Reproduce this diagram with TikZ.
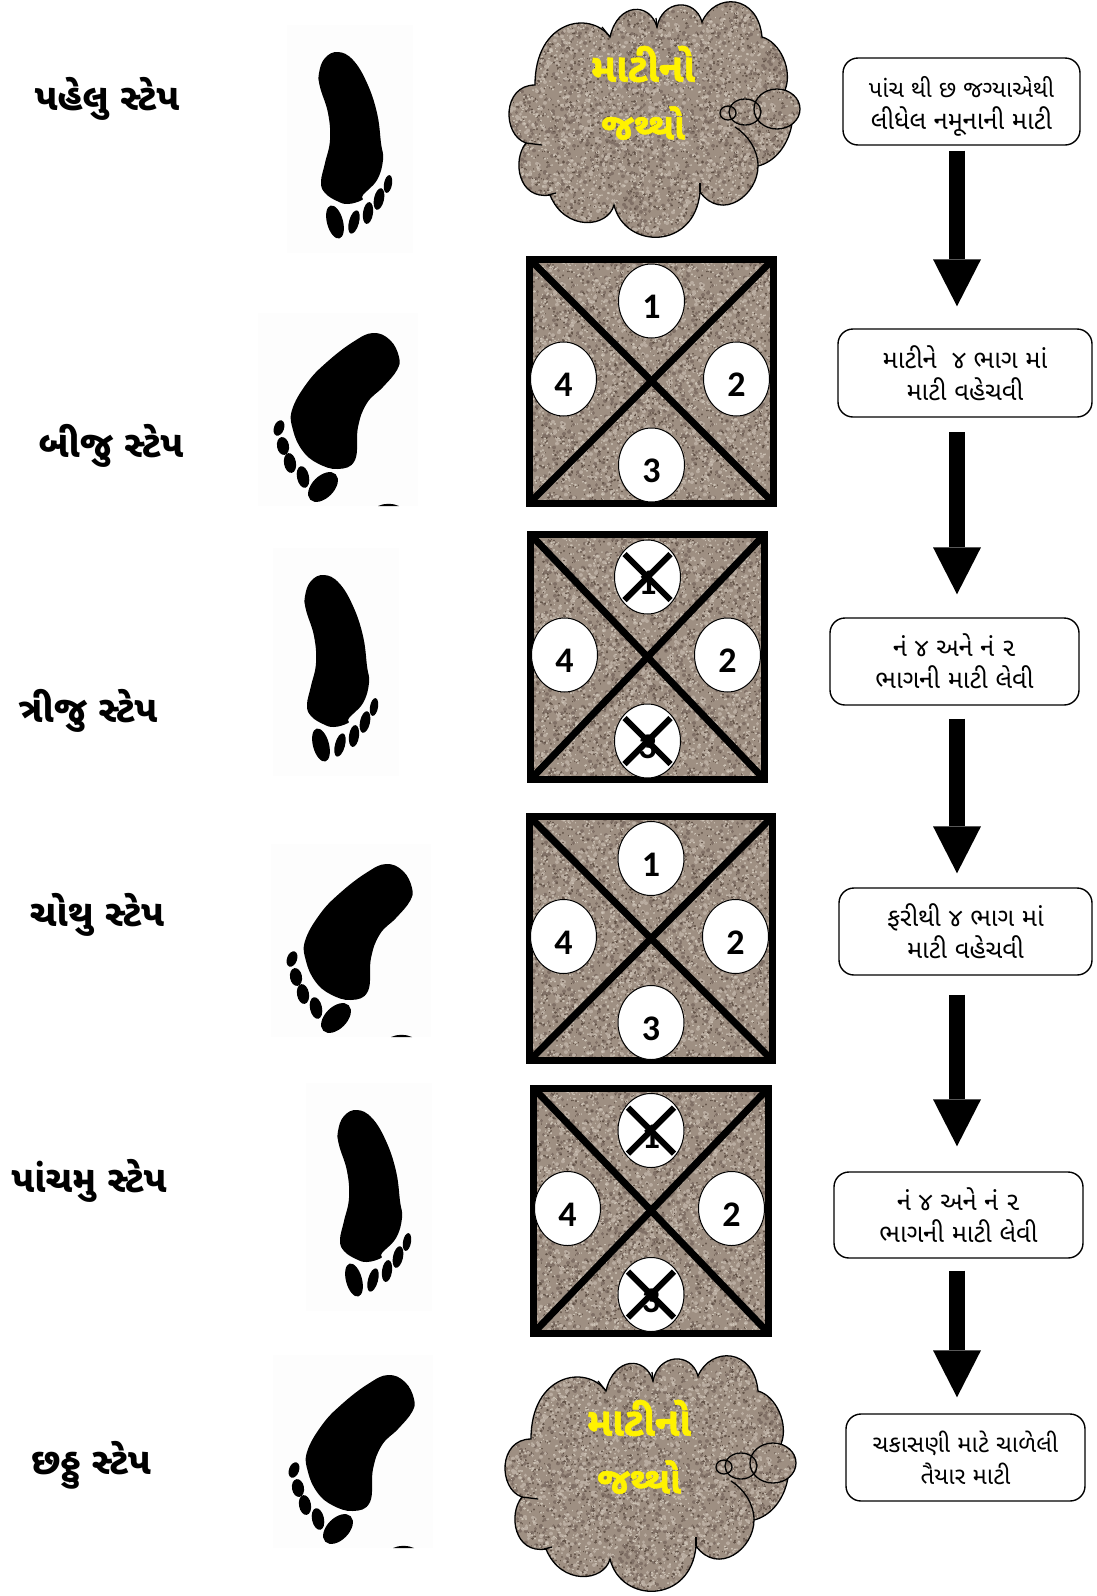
\documentclass[tikz,border=0pt]{standalone}
\usepackage{fontspec}
\usepackage{xcolor}
\usetikzlibrary{shapes.geometric,arrows.meta}
\setmainfont{Carlito}
\newfontfamily\gujfont[Script=Gujarati]{Noto Sans Gujarati UI}
\newfontfamily\gujheavy[Script=Gujarati,FakeBold=1.5]{Noto Sans Gujarati UI Bold}
\definecolor{footback}{RGB}{253,253,253}
\pgfmathsetseed{417}
\newcommand\soilink{q 0.1 0 0 0.1 0 0 cm 0.62 0.56 0.51 rg 0 0 1405 1405 re f 1 J }
\newcommand\addgrains[3]{
  \xdef\soilink{\soilink #2 RG #3 w }
  \foreach \g in {1,...,#1}{
    \pgfmathrandominteger\gx{0}{1400}
    \pgfmathrandominteger\gy{0}{1400}
    \xdef\soilink{\soilink \gx\space\gy\space m \gx\space\the\numexpr\gy+1\relax\space l }
  }
  \xdef\soilink{\soilink S }
}
\addgrains{350}{0.50 0.44 0.40}{36}
\addgrains{350}{0.73 0.68 0.63}{36}
\addgrains{300}{0.38 0.32 0.28}{14}
\addgrains{200}{0.38 0.32 0.28}{22}
\addgrains{300}{0.80 0.76 0.71}{14}
\addgrains{250}{0.80 0.76 0.71}{22}
\xdef\soilink{\soilink Q}
\newsavebox\soiltile
\makeatletter
\sbox\soiltile{\begin{pgfpicture}
  \pgfpathrectangle{\pgfpointorigin}{\pgfqpoint{140pt}{140pt}}
  \pgfusepath{use as bounding box}
  \pgfsys@invoke{\soilink}
\end{pgfpicture}}
\makeatother
\newcommand\soiltiles[4]{
  \foreach \col in {1,...,#3}{
    \foreach \row in {1,...,#4}{
      \pgfmathsetmacro\tilex{#1+(\col-1)*139}
      \pgfmathsetmacro\tiley{#2+(\row-1)*139}
      \pgftext[at={\pgfpointxy{\tilex}{\tiley}},left,top]{\usebox\soiltile}
    }
  }
}
\newcommand\cloudoutline{(610,37) .. controls (618,2) and (650,2) .. (657,27)
  .. controls (662,0) and (695,-3) .. (702,22) .. controls (715,-8) and (758,-6) .. (762,37)
  .. controls (780,42) and (793,70) .. (785,90) .. controls (802,110) and (790,158) .. (758,166)
  .. controls (758,195) and (722,222) .. (700,192) .. controls (695,250) and (625,250) .. (614,205)
  .. controls (608,228) and (565,232) .. (550,195) .. controls (518,200) and (512,160) .. (526,143)
  .. controls (502,135) and (502,85) .. (535,85) .. controls (535,20) and (590,10) .. (610,37) -- cycle}
\tikzset{
  steplabel/.style={font=\gujfont\bfseries\fontsize{37}{42}\selectfont},
  stepbox/.style={draw,line width=1.4pt,rounded corners=15pt,align=center,inner sep=0pt,
    font=\gujfont\fontsize{25.5}{32}\selectfont},
  cloudtext/.style={text=yellow,font=\gujheavy\fontsize{37}{42}\selectfont},
  holeoval/.style={ellipse,draw,fill=white,line width=1pt,inner sep=0pt,minimum width=66pt,
    minimum height=74pt,text height=35pt,text depth=0pt,font=\bfseries\fontsize{36}{40}\selectfont},
  blockarrow/.style={line width=16pt,-{Triangle[width=48pt,length=47pt,line width=0pt]}},
  crossmark/.style={line width=6pt},
  cloudline/.style={line width=1.3pt},
  straightfoot/.pic={
    \fill[footback] (287,25) rectangle (413,253);
    \fill plot[smooth cycle,tension=0.7] coordinates {(338,52) (353,60) (367,83) (377,113) (381,143)
      (383,160) (377,180) (363,195) (362,200) (348,204) (337,201) (325,193) (321,182) (325,163)
      (330,140) (328,113) (320,87) (319,73) (325,58)};
    \foreach \tx/\ty/\ta/\tb/\tr in {335/222/8/17/15,354/222/5/12/-15,368/213/5/11/-8,379/199/5/11/-12,388/184/4/9/-10}
      \fill[rotate around={\tr:(\tx,\ty)}] (\tx,\ty) ellipse ({\ta} and {\tb});
  },
  slantfoot/.pic={
    \fill[footback] (258,313) rectangle (418,506);
    \fill plot[smooth cycle,tension=0.7] coordinates {(373,333) (390,340) (399,357) (397,370) (383,387)
      (367,403) (358,427) (355,460) (338,469) (317,463) (302,450) (293,430) (292,410) (307,383)
      (327,362) (353,342)};
    \foreach \tx/\ty/\ta/\tb/\tr in {279/428/5/8/-20,283/446/6/9/10,290/463/6/10/10,303/477/6/11/12,323/487/18/11/45}
      \fill[rotate around={\tr:(\tx,\ty)}] (\tx,\ty) ellipse ({\ta} and {\tb});
    \fill (378,506) .. controls (385,503) and (392,503) .. (399,506) -- cycle;
  },
  soilcloud/.pic={
    \begin{scope}
      \clip \cloudoutline;
      \soiltiles{505}{0}{3}{2}
    \end{scope}
    \draw[cloudline] \cloudoutline;
    \draw[cloudline] (735,127) .. controls (748,135) and (758,150) .. (758,166);
    \draw[cloudline] (700,192) -- (700,183);
    \draw[cloudline] (548,195) -- (556,193);
    \draw[cloudline] (526,143) -- (542,145);
    \draw[cloudline] (610,37) -- (602,27);
    \draw[cloudline] (657,27) -- (656,18);
    \begin{scope}
      \clip (777,109) ellipse (23 and 20);
      \soiltiles{740}{80}{1}{1}
    \end{scope}
    \draw[cloudline] (777,109) ellipse (23 and 20);
    \draw[cloudline] (745,112) ellipse (16 and 13);
    \draw[cloudline] (728,113) ellipse (8 and 7);
  }
}
\begin{document}
\begin{tikzpicture}[x=1pt,y=-1pt]
  \useasboundingbox (0,0) rectangle (1096,1596);
  \foreach \name/\x/\y/\txt in {stepA/107/99/પહેલુ સ્ટેપ,stepB/111/446/બીજુ સ્ટેપ,stepC/88/711/ત્રીજુ સ્ટેપ,
      stepD/97/915/ચોથુ સ્ટેપ,stepE/89/1181/પાંચમુ સ્ટેપ,stepF/91/1465/છઠ્ઠુ સ્ટેપ}{
    \node[steplabel] (\name) at (\x,\y) {\txt};
  }
  \pic (footA) at (0,0) {straightfoot};
  \pic (footB) at (0,0) {slantfoot};
  \pic (footC) at (-14,523) {straightfoot};
  \pic (footD) at (13,531) {slantfoot};
  \pic (footE) at (19,1058) {straightfoot};
  \pic (footF) at (15,1042) {slantfoot};
  \pic (cloudA) at (0,0) {soilcloud};
  \pic (cloudB) at (-4,1354) {soilcloud};
  \node[cloudtext,font=\gujheavy\fontsize{40}{42}\selectfont] (heapA) at (643,64) {માટીનો};
  \node[cloudtext] (heapB) at (643,123) {જથ્થો};
  \node[cloudtext,font=\gujheavy\fontsize{40}{42}\selectfont] (heapC) at (639,1418) {માટીનો};
  \node[cloudtext] (heapD) at (639,1477) {જથ્થો};
  \foreach \name/\cx/\cy/\hw/\hh in {panelA/651.5/381/122/122,panelB/647.5/657/117/122.5,
      panelC/651/938.5/121.5/122,panelD/651/1210.5/117.5/122.5}{
    \begin{scope}
      \clip ({\cx-\hw},{\cy-\hh}) rectangle ({\cx+\hw},{\cy+\hh});
      \soiltiles{\cx-\hw}{\cy-\hh}{2}{2}
    \end{scope}
    \draw[line width=7pt] ({\cx-\hw},{\cy-\hh}) rectangle ({\cx+\hw},{\cy+\hh});
    \draw[line width=7pt] ({\cx-\hw},{\cy-\hh}) -- ({\cx+\hw},{\cy+\hh});
    \draw[line width=7pt] ({\cx+\hw},{\cy-\hh}) -- ({\cx-\hw},{\cy+\hh});
    \node[holeoval] (\name-1) at (\cx,{\cy-80}) {1};
    \node[holeoval] (\name-2) at ({\cx+\hw-37},{\cy-2}) {2};
    \node[holeoval] (\name-3) at (\cx,{\cy+84}) {3};
    \node[holeoval] (\name-4) at ({\cx-\hw+34},{\cy-2}) {4};
  }
  \foreach \name in {panelB-1,panelB-3,panelD-1,panelD-3}{
    \draw[crossmark] ([shift={(-23pt,23pt)}]\name.center) -- ([shift={(23pt,-23pt)}]\name.center);
    \draw[crossmark] ([shift={(-23pt,-23pt)}]\name.center) -- ([shift={(23pt,23pt)}]\name.center);
  }
  \node[stepbox,minimum width=237pt,minimum height=87pt,font=\gujfont\fontsize{23.5}{32}\selectfont] (boxA) at (961.5,101.5) {\rule{0pt}{31pt}પાંચ થી છ જગ્યાએથી\\{\fontsize{25.5}{32}\selectfont લીધેલ નમૂનાની માટી}};
  \node[stepbox,minimum width=254pt,minimum height=88pt] (boxB) at (965,373) {માટીને\ \ ૪ ભાગ માં\\માટી વહેચવી};
  \node[stepbox,minimum width=249pt,minimum height=87pt] (boxC) at (954.5,661.5) {નં ૪ અને નં ૨\\ભાગની માટી લેવી};
  \node[stepbox,minimum width=253pt,minimum height=87pt] (boxD) at (965.5,931.5) {ફરીથી ૪ ભાગ માં\\માટી વહેચવી};
  \node[stepbox,minimum width=249pt,minimum height=86pt] (boxE) at (958.5,1215) {નં ૪ અને નં ૨\\ભાગની માટી લેવી};
  \node[stepbox,minimum width=239pt,minimum height=87pt,font=\gujfont\fontsize{24}{32}\selectfont] (boxF) at (965.5,1457.5) {ચકાસણી માટે ચાળેલી\\તૈયાર માટી};
  \draw[blockarrow] ([xshift=-4.5pt,yshift=-5pt]boxA.south) -- ([xshift=-8pt,yshift=22pt]boxB.north);
  \draw[blockarrow] ([xshift=-8pt,yshift=-14.5pt]boxB.south) -- ([xshift=2.5pt,yshift=23pt]boxC.north);
  \draw[blockarrow] ([xshift=2.5pt,yshift=-13pt]boxC.south) -- ([xshift=-8.5pt,yshift=14pt]boxD.north);
  \draw[blockarrow] ([xshift=-8.5pt,yshift=-19pt]boxD.south) -- ([xshift=-1.5pt,yshift=25pt]boxE.north);
  \draw[blockarrow] ([xshift=-1.5pt,yshift=-12pt]boxE.south) -- ([xshift=-8.5pt,yshift=16pt]boxF.north);
\end{tikzpicture}
\end{document}
